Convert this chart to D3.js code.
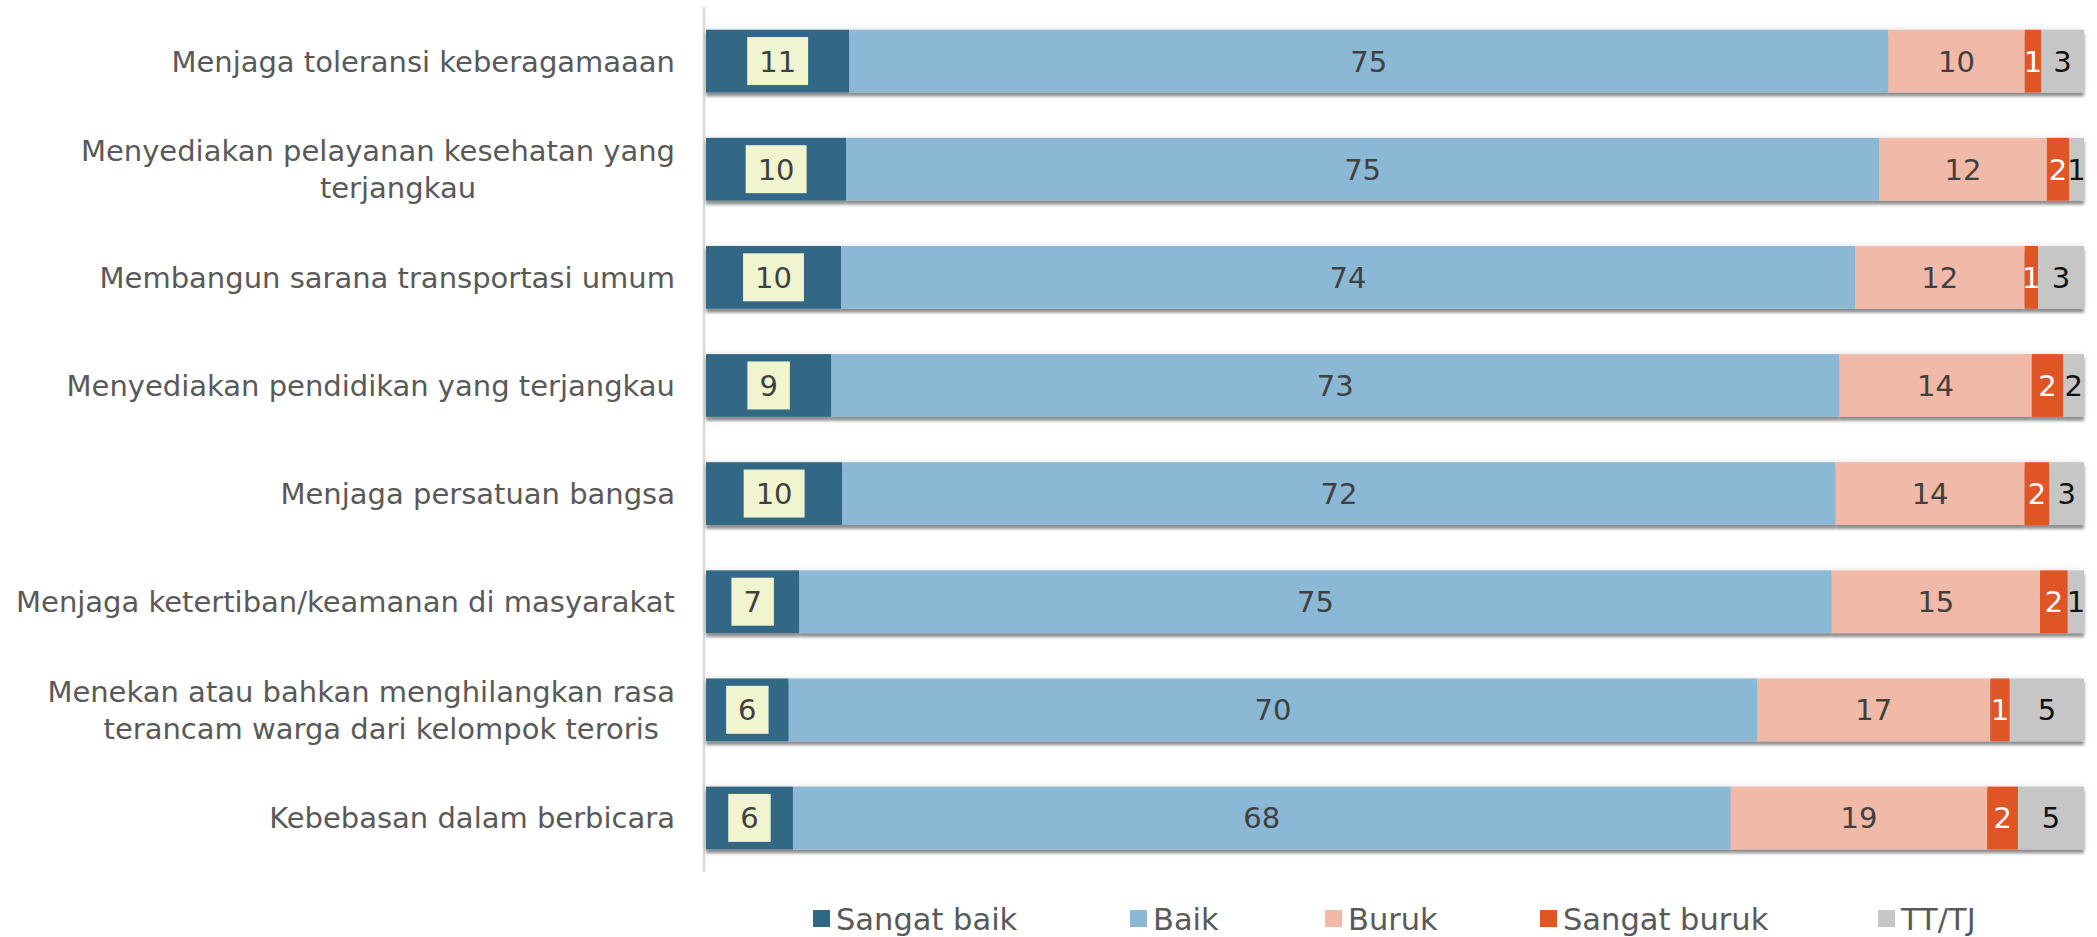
<!DOCTYPE html>
<html>
<head>
<meta charset="utf-8">
<script src="https://cdn.jsdelivr.net/npm/d3@7"></script>
<style>
html,body{margin:0;padding:0;background:#fff;}
svg{display:block;}
</style>
</head>
<body>
<svg id="chart" width="2097" height="937"></svg>
<script>
// ---- DATA ----
const categories = [
  ["Menjaga toleransi keberagamaaan"],
  ["Menyediakan pelayanan kesehatan yang", "terjangkau"],
  ["Membangun sarana transportasi umum"],
  ["Menyediakan pendidikan yang terjangkau"],
  ["Menjaga persatuan bangsa"],
  ["Menjaga ketertiban/keamanan di masyarakat"],
  ["Menekan atau bahkan menghilangkan rasa", "terancam warga dari kelompok teroris"],
  ["Kebebasan dalam berbicara"]
];
const seriesNames = ["Sangat baik", "Baik", "Buruk", "Sangat buruk", "TT/TJ"];
const sangatBaik  = [10.40, 10.18, 9.80, 9.09, 9.89, 6.77, 6.00, 6.31];
const baik        = [75.40, 74.94, 73.58, 73.15, 72.09, 74.92, 70.29, 68.05];
const buruk       = [9.90, 12.19, 12.31, 13.96, 13.72, 15.12, 16.91, 18.62];
const sangatBuruk = [1.18, 1.60, 0.97, 2.29, 1.79, 2.01, 1.41, 2.23];
const ttTj        = [3.12, 1.09, 3.34, 1.50, 2.52, 1.18, 5.39, 4.79];
// displayed data labels
const sangatBaikLabel  = [11, 10, 10, 9, 10, 7, 6, 6];
const baikLabel        = [75, 75, 74, 73, 72, 75, 70, 68];
const burukLabel       = [10, 12, 12, 14, 14, 15, 17, 19];
const sangatBurukLabel = [1, 2, 1, 2, 2, 2, 1, 2];
const ttTjLabel        = [3, 1, 3, 2, 3, 1, 5, 5];

// ---- STYLE ----
const colors = ["#306785", "#8bb8d4", "#f1b9a8", "#e05426", "#c6c6c6"];
const labelColors = ["#404040", "#404040", "#404040", "#ffffff", "#111111"];
const FONT = "'DejaVu Sans', sans-serif";

const seriesValues = [sangatBaik, baik, buruk, sangatBuruk, ttTj];
const seriesLabels = [sangatBaikLabel, baikLabel, burukLabel, sangatBurukLabel, ttTjLabel];

const rows = categories.map((c, i) => {
  const o = {idx: i};
  seriesNames.forEach((s, k) => { o[s] = seriesValues[k][i]; });
  return o;
});

const stack = d3.stack().keys(seriesNames).offset(d3.stackOffsetExpand);
const stacked = stack(rows);

const svg = d3.select("#chart");
const x = d3.scaleLinear().domain([0, 1]).range([706, 2084]);
const y = d3.scaleBand().domain(d3.range(categories.length)).range([7, 872])
  .paddingInner(0.42).paddingOuter(0.21);

// filter: drop shadow + faint glow
const defs = svg.append("defs");
const f = defs.append("filter").attr("id", "shadow")
  .attr("x", "-2%").attr("y", "-30%").attr("width", "104%").attr("height", "170%");
f.append("feGaussianBlur").attr("in", "SourceAlpha").attr("stdDeviation", 3.5).attr("result", "glowBlur");
f.append("feComponentTransfer").attr("in", "glowBlur").attr("result", "glow")
  .append("feFuncA").attr("type", "linear").attr("slope", 0.12);
f.append("feGaussianBlur").attr("in", "SourceAlpha").attr("stdDeviation", 1.4).attr("result", "b2");
f.append("feOffset").attr("in", "b2").attr("dy", 4).attr("result", "off");
f.append("feComponentTransfer").attr("in", "off").attr("result", "shadow")
  .append("feFuncA").attr("type", "linear").attr("slope", 0.42);
const m = f.append("feMerge");
m.append("feMergeNode").attr("in", "glow");
m.append("feMergeNode").attr("in", "shadow");
m.append("feMergeNode").attr("in", "SourceGraphic");

// axis line
svg.append("line")
  .attr("x1", 704).attr("x2", 704).attr("y1", 7).attr("y2", 872)
  .attr("stroke", "#d9d9d9").attr("stroke-width", 2.5);

// bars
const rowG = svg.append("g").selectAll("g.row")
  .data(d3.range(categories.length)).join("g")
  .attr("class", "row").attr("filter", "url(#shadow)");

rowG.selectAll("rect")
  .data(i => stacked.map((s, k) => ({k, i, v0: s[i][0], v1: s[i][1]})))
  .join("rect")
  .attr("x", d => x(d.v0))
  .attr("width", d => x(d.v1) - x(d.v0))
  .attr("y", d => y(d.i))
  .attr("height", y.bandwidth())
  .attr("fill", d => colors[d.k]);

// data labels
const labG = svg.append("g");
stacked.forEach((s, k) => {
  s.forEach((seg, i) => {
    const cx = (x(seg[0]) + x(seg[1])) / 2;
    const cy = y(i) + y.bandwidth() / 2;
    const txt = String(seriesLabels[k][i]);
    const t = labG.append("text")
      .attr("x", cx).attr("y", cy).attr("dy", "0.36em")
      .attr("text-anchor", "middle")
      .attr("font-family", FONT).attr("font-size", 29)
      .attr("fill", labelColors[k])
      .text(txt);
    if (k === 0) {
      const w = t.node().getComputedTextLength();
      labG.insert("rect", () => t.node())
        .attr("x", cx - w / 2 - 12).attr("width", w + 24)
        .attr("y", cy - 24).attr("height", 48)
        .attr("fill", "#f0f5d0");
    }
  });
});

// category labels
const catG = svg.append("g");
categories.forEach((lines, i) => {
  const cy = y(i) + y.bandwidth() / 2;
  if (lines.length === 1) {
    catG.append("text")
      .attr("x", 675).attr("y", cy).attr("dy", "0.36em")
      .attr("text-anchor", "end")
      .attr("font-family", FONT).attr("font-size", 29).attr("fill", "#595959")
      .text(lines[0]);
  } else {
    const t1 = catG.append("text")
      .attr("x", 675).attr("y", cy - 18.5).attr("dy", "0.36em")
      .attr("text-anchor", "end")
      .attr("font-family", FONT).attr("font-size", 29).attr("fill", "#595959")
      .text(lines[0]);
    const w1 = t1.node().getComputedTextLength();
    catG.append("text")
      .attr("x", 675 - w1 / 2 + 20).attr("y", cy + 18.5).attr("dy", "0.36em")
      .attr("text-anchor", "middle")
      .attr("font-family", FONT).attr("font-size", 29).attr("fill", "#595959")
      .text(lines[1]);
  }
});

// legend
const legendX = [813, 1130, 1325, 1540, 1878];
const legG = svg.append("g");
seriesNames.forEach((s, k) => {
  legG.append("rect").attr("x", legendX[k]).attr("y", 910).attr("width", 17).attr("height", 17)
    .attr("fill", colors[k]);
  legG.append("text").attr("x", legendX[k] + 23).attr("y", 919).attr("dy", "0.36em")
    .attr("font-family", FONT).attr("font-size", 30.5).attr("fill", "#595959")
    .text(s);
});
</script>
</body>
</html>
